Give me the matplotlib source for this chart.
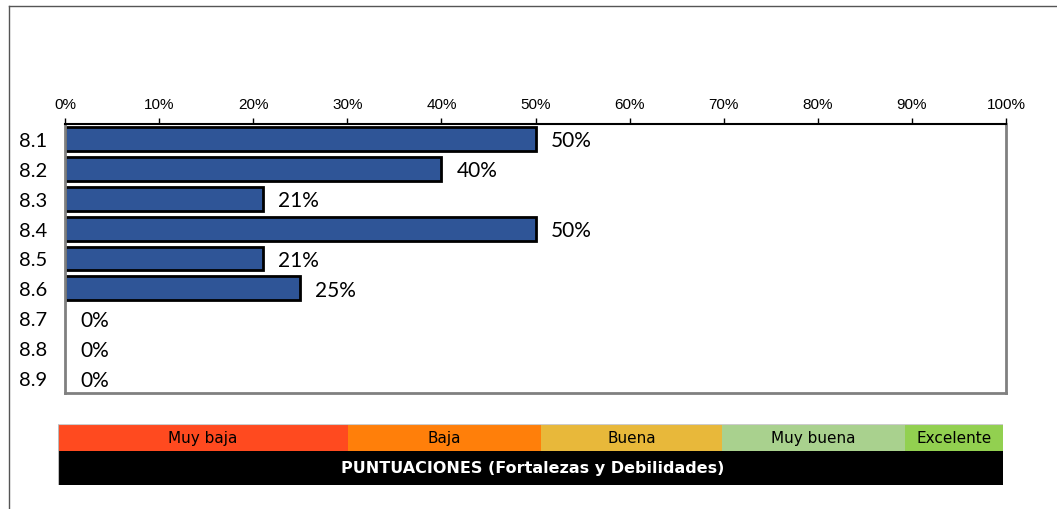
import numpy as np
import matplotlib
matplotlib.use("Agg")
import matplotlib.pyplot as plt
from matplotlib import font_manager
from matplotlib.patches import Rectangle
from matplotlib.lines import Line2D
from matplotlib.ticker import PercentFormatter

# Items and share of answers per item
items = ["8.1", "8.2", "8.3", "8.4", "8.5", "8.6", "8.7", "8.8", "8.9"]
shares = [50, 40, 21, 50, 21, 25, 0, 0, 0]

# Rating scale shown under the chart
scale_labels = ["Muy baja", "Baja", "Buena", "Muy buena", "Excelente"]
scale_colors = ["#FF4A1F", "#FF7F0A", "#E8B83A", "#A9D18E", "#92D050"]
scale_edges = [0, 290, 483, 664, 847, 945]  # px along the band
scale_title = "PUNTUACIONES (Fortalezas y Debilidades)"

# regular (non-narrow) Liberation Sans for the percent axis
arial_like = None
for f in font_manager.fontManager.ttflist:
    if f.name == "Liberation Sans" and f.style == "normal" and f.weight in (400, "normal") \
            and "Narrow" not in f.fname:
        arial_like = f.fname
        break
tick_font = font_manager.FontProperties(fname=arial_like, size=11) if arial_like \
    else font_manager.FontProperties(family="DejaVu Sans", size=10)

W, H = 1057, 510
fig = plt.figure(figsize=(W / 100, H / 100), dpi=100)

# outer frame (left and top only)
fig.add_artist(Line2D([9 / W, 9 / W], [0, 1 - 7 / H], color="#555555", lw=1))
fig.add_artist(Line2D([9 / W, 1], [1 - 7 / H, 1 - 7 / H], color="#555555", lw=1))

ax = fig.add_axes([65 / W, 1 - 394 / H, (1006 - 65) / W, (394 - 125) / H])
y = np.arange(len(items))
# empty bars get no outline so the grey axis line stays visible
ax.barh(y, shares, height=0.8, color="#2F5597", edgecolor="black",
        linewidth=[2 if v > 0 else 0 for v in shares])
ax.set_ylim(len(items) - 0.5, -0.5)
ax.set_xlim(0, 100)

for yi, v in zip(y, shares):
    ax.text(v + 1.6, yi + 0.05, f"{v}%", va="center", ha="left",
            fontsize=15, family="Lato")

ax.xaxis.set_ticks_position("top")
ax.set_xticks(np.arange(0, 101, 10))
ax.xaxis.set_major_formatter(PercentFormatter(decimals=0))
ax.tick_params(axis="x", direction="out", length=4, width=1, pad=5)
for lab in ax.get_xticklabels():
    lab.set_fontproperties(tick_font)
ax.set_yticks(y)
ax.set_yticklabels(items)
ax.tick_params(axis="y", length=0, pad=13, labelsize=14.5, labelfontfamily="Lato")

ax.spines["top"].set_color("black")
ax.spines["top"].set_linewidth(1.5)
for s in ["left", "right", "bottom"]:
    ax.spines[s].set_color("#808080")
    ax.spines[s].set_linewidth(2)

# rating band
band = fig.add_axes([58 / W, 1 - 486 / H, 945 / W, (486 - 425) / H])
band.set_xlim(0, scale_edges[-1])
band.set_ylim(0, 61)
band.axis("off")
for lab, col, x0, x1 in zip(scale_labels, scale_colors, scale_edges[:-1], scale_edges[1:]):
    band.add_patch(Rectangle((x0, 34), x1 - x0, 27, color=col, lw=0))
    band.text((x0 + x1) / 2, 47.5, lab, ha="center", va="center",
              fontsize=11, family="DejaVu Sans", color="black")
band.add_patch(Rectangle((0, 0), scale_edges[-1], 34, color="black", lw=0))
band.text(scale_edges[-1] * 0.5 + 2, 17, scale_title, ha="center", va="center",
          fontsize=11.5, family="DejaVu Sans", weight="bold", color="white")
band.add_line(Line2D([0, 0], [0, 61], color="#BBBBBB", lw=1.5))
band.add_line(Line2D([0, scale_edges[-1]], [61, 61], color="#CCCCCC", lw=1.5))

fig.savefig("out.png", dpi=100)
